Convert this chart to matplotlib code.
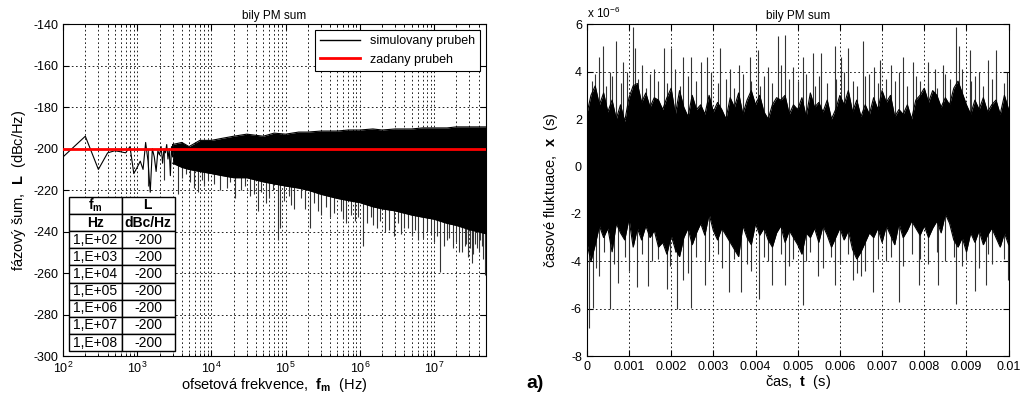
import numpy as np
import matplotlib
matplotlib.use('Agg')
import matplotlib.pyplot as plt
from matplotlib.lines import Line2D
from matplotlib.ticker import FixedLocator, FuncFormatter, LogLocator, NullFormatter

plt.rcParams['font.family'] = ['Liberation Sans', 'DejaVu Sans']
plt.rcParams['mathtext.fontset'] = 'custom'
plt.rcParams['mathtext.rm'] = 'Liberation Sans'
plt.rcParams['mathtext.bf'] = 'Liberation Sans:bold'
plt.rcParams['axes.unicode_minus'] = False

############################ data: spectrum (left) ############################
# low offset part, single FFT bins (Hz, dBc/Hz)
f_low = [100, 200, 300, 400, 500, 600, 700, 800, 900, 1000,
         1100, 1200, 1300, 1400, 1500, 1600, 1700, 1800, 1900, 2000,
         2100, 2200, 2300, 2400, 2500, 2600, 2700, 2800, 2900, 3000]
L_low = [-204, -194, -210, -202, -201, -201.5, -202, -199, -212, -209,
         -206, -210, -197, -206, -221, -200, -204, -211, -201, -203,
         -199, -207, -200, -202, -198, -205, -200, -213, -199, -204]

# dense part, envelope of the black band
f_band = [3e3, 4e3, 5e3, 7e3, 1e4, 1.4e4, 2e4, 3e4, 5e4, 7e4, 1e5, 1.5e5, 2e5, 3e5,
          5e5, 7e5, 1e6, 1.5e6, 2e6, 3e6, 5e6, 7e6, 1e7, 1.5e7, 2e7, 3e7, 5e7]
L_band_hi = [-198, -197, -199, -196, -196, -195, -194, -193, -194, -192.5, -193, -192, -192, -191.5,
             -191.5, -191, -191, -190.5, -191, -190.5, -190.5, -190, -190, -190, -189.5, -189.5, -189.5]
L_band_lo = [-207, -209, -210, -211, -212, -213, -214, -214, -216, -217, -218, -219, -220, -222,
             -224, -225, -226, -228, -229, -230, -232, -233, -234, -236, -237, -239, -241]

# deep downward spikes (Hz, dBc/Hz)
f_spk = [1.4e3, 2.3e3, 3.5e3, 5.8e3, 6.6e3, 9e3, 1.3e4, 2.1e4, 3.3e4, 4.2e4, 5.5e4, 7.8e4,
         8.5e4, 1.3e5, 2.1e5, 3.0e5, 4.5e5, 6.5e5, 1.1e6, 1.5e6, 2.2e6, 2.9e6, 4e6, 6e6,
         8e6, 1.2e7, 1.6e7, 2.2e7, 2.7e7, 3.2e7, 3.8e7, 4.2e7, 4.8e7]
L_spk = [-218, -215, -222, -219, -221, -215, -220, -224, -223, -230, -226, -244,
         -238, -229, -238, -232, -231, -236, -247, -237, -240, -242, -238, -244,
         -240, -259.5, -243, -250, -246, -255, -248, -244, -261]
# shallower spikes below the band edge
f_spk2 = [4e3, 4.5e3, 5.2e3, 7.5e3, 8e3, 1.1e4, 1.6e4, 1.8e4, 2.5e4, 2.8e4, 3.8e4, 4.6e4,
          6e4, 6.8e4, 9.5e4, 1.1e5, 1.2e5, 1.6e5, 1.8e5, 2.4e5, 2.7e5, 3.5e5, 4e5, 5.5e5,
          6e5, 7.5e5, 8.5e5, 9.5e5, 1.25e6, 1.4e6, 1.7e6, 1.9e6, 2.5e6, 3.3e6, 3.6e6, 4.5e6,
          5e6, 5.5e6, 7e6, 9e6, 1e7, 1.1e7, 1.35e7, 1.5e7, 1.8e7, 2e7, 2.4e7, 2.6e7,
          2.9e7, 3.1e7, 3.4e7, 3.6e7, 4e7, 4.4e7, 4.6e7, 5e7]
L_spk2 = [-214, -212, -216, -215, -218, -217, -219, -216, -220, -218, -222, -221,
          -224, -220, -225, -223, -227, -224, -229, -226, -230, -228, -233, -230,
          -234, -232, -235, -233, -236, -233, -238, -235, -239, -236, -241, -238,
          -242, -239, -243, -241, -245, -242, -247, -244, -248, -245, -250, -247,
          -252, -248, -251, -246, -250, -247, -253, -249]

L_set = -200
tab_f = ['1,E+02', '1,E+03', '1,E+04', '1,E+05', '1,E+06', '1,E+07', '1,E+08']
tab_L = ['-200', '-200', '-200', '-200', '-200', '-200', '-200']

############################ data: time jitter (right) ########################
t_env = [i * 0.0001 for i in range(101)]
x_hi = [2.2, 3.0, 3.4, 2.6, 3.1, 2.3, 2.8, 2.0, 2.6, 1.9,
        2.9, 3.4, 3.5, 2.7, 3.1, 2.5, 2.9, 2.8, 2.4, 2.9,
        3.3, 2.2, 3.2, 2.5, 2.1, 3.0, 2.4, 2.6, 2.2, 3.0,
        2.3, 2.7, 2.4, 2.0, 2.9, 2.5, 3.1, 2.2, 2.8, 3.2,
        2.6, 3.0, 2.3, 2.0, 2.6, 2.9, 2.8, 3.0, 2.2, 2.6,
        2.4, 2.9, 2.1, 3.1, 2.5, 2.7, 2.3, 2.8, 2.0, 2.4,
        3.0, 2.6, 3.2, 2.3, 2.8, 2.1, 2.6, 2.2, 2.9, 2.4,
        3.2, 2.7, 3.0, 2.1, 2.4, 2.2, 2.6, 2.0, 2.8, 3.0,
        3.3, 2.7, 3.2, 3.0, 2.5, 2.9, 2.6, 3.3, 3.6, 3.1,
        2.6, 2.2, 2.8, 2.4, 2.9, 2.3, 2.6, 2.8, 2.2, 3.0, 2.4]
x_lo = [-3.2, -4.0, -3.3, -2.5, -3.0, -2.6, -3.6, -2.4, -2.8, -3.1,
        -2.2, -3.4, -2.6, -3.1, -2.5, -3.0, -2.7, -3.4, -3.2, -3.7,
        -2.9, -3.5, -3.8, -3.0, -2.6, -3.3, -2.8, -2.4, -2.9, -2.0,
        -2.7, -3.1, -2.6, -2.9, -3.2, -3.5, -3.8, -2.5, -3.0, -3.3,
        -2.4, -2.9, -2.6, -3.1, -3.4, -2.8, -2.5, -3.2, -2.7, -3.0,
        -3.3, -3.7, -2.8, -3.0, -2.6, -3.2, -2.5, -2.9, -3.4, -3.0,
        -2.6, -3.1, -2.7, -3.5, -3.9, -3.6, -3.2, -2.8, -3.0, -2.6,
        -3.2, -2.5, -2.9, -3.3, -2.4, -3.0, -2.7, -2.3, -2.6, -2.9,
        -2.5, -3.0, -2.6, -2.3, -2.8, -2.0, -2.4, -3.1, -3.4, -3.0,
        -3.6, -2.8, -3.2, -2.7, -3.3, -2.9, -2.6, -3.0, -3.4, -2.8, -3.3]

# tall spikes (s, x10^-6 s)
t_up = [0.00028, 0.00039, 0.00055, 0.0007, 0.00085, 0.0011, 0.00115, 0.0013, 0.0016, 0.00183,
        0.002, 0.00228, 0.00248, 0.0027, 0.00286, 0.00315, 0.0034, 0.0036, 0.00386, 0.00406,
        0.0043, 0.00453, 0.00471, 0.0049, 0.00513, 0.00536, 0.00556, 0.00588, 0.00603, 0.00619,
        0.00655, 0.0068, 0.00694, 0.0072, 0.0075, 0.00773, 0.00809, 0.00825, 0.00844, 0.00876,
        0.00882, 0.00908, 0.0093, 0.0095, 0.00971, 0.00996]
x_up = [4.6, 5.1, 4.0, 5.3, 4.4, 5.9, 5.0, 4.3, 4.1, 5.0,
        5.0, 4.6, 4.6, 4.4, 4.6, 5.0, 4.1, 4.3, 4.6, 4.9,
        4.2, 5.5, 5.55, 4.2, 4.6, 4.8, 4.8, 5.1, 4.6, 5.0,
        5.3, 4.2, 4.5, 4.3, 4.6, 4.4, 4.4, 4.1, 4.3, 5.9,
        5.1, 4.9, 4.0, 4.5, 4.9, 4.0]
t_dn = [0.00005, 0.00015, 0.0003, 0.00055, 0.00075, 0.00118, 0.00144, 0.0019, 0.00215, 0.00227,
        0.00248, 0.0028, 0.00338, 0.00366, 0.00408, 0.0044, 0.00469, 0.00513, 0.00549, 0.00588,
        0.0063, 0.00678, 0.0074, 0.00788, 0.00832, 0.00876, 0.0092, 0.00947, 0.00998]
x_dn = [-6.8, -5.95, -4.6, -6.0, -4.9, -5.1, -5.05, -5.15, -6.0, -4.8,
        -5.95, -5.0, -5.3, -5.3, -5.6, -5.0, -5.0, -5.85, -4.6, -5.0,
        -4.8, -5.3, -5.7, -5.0, -5.0, -5.8, -5.25, -5.0, -4.8]
# medium spikes
t_up2 = [0.00012, 0.0002, 0.00045, 0.0006, 0.0008, 0.00095, 0.00122, 0.0014, 0.0015, 0.0017,
         0.0019, 0.00208, 0.0022, 0.0024, 0.0026, 0.00295, 0.0031, 0.0033, 0.0035, 0.0037,
         0.0039, 0.0041, 0.0042, 0.0044, 0.0046, 0.0048, 0.005, 0.0052, 0.0054, 0.0055,
         0.0057, 0.0059, 0.0061, 0.0063, 0.0064, 0.0066, 0.0067, 0.0069, 0.0071, 0.0073,
         0.0074, 0.0076, 0.0078, 0.0079, 0.0081, 0.0083, 0.0085, 0.0086, 0.0088, 0.0089,
         0.0091, 0.0092, 0.0094, 0.0096, 0.0097, 0.0099]
x_up2 = [3.6, 3.9, 3.4, 3.8, 3.5, 4.0, 3.7, 3.3, 3.9, 3.6,
         3.5, 4.1, 3.4, 3.8, 3.6, 4.0, 3.5, 3.7, 3.3, 3.9,
         3.6, 3.4, 3.8, 3.5, 4.3, 3.7, 3.6, 3.9, 3.4, 3.8,
         3.5, 3.7, 4.0, 3.6, 3.4, 3.8, 3.9, 3.5, 3.7, 3.6,
         4.0, 3.4, 3.8, 3.6, 3.5, 3.3, 3.9, 3.7, 3.5, 4.1,
         3.6, 3.8, 3.4, 3.7, 3.9, 3.5]
t_dn2 = [0.0001, 0.00022, 0.0004, 0.00065, 0.0009, 0.001, 0.0013, 0.00155, 0.0017, 0.00198,
         0.0021, 0.0024, 0.0026, 0.0029, 0.0031, 0.0032, 0.0035, 0.0038, 0.0039, 0.0042,
         0.0043, 0.0046, 0.0048, 0.0049, 0.0052, 0.0053, 0.0056, 0.0058, 0.006, 0.0062,
         0.0064, 0.0065, 0.0066, 0.0069, 0.0071, 0.0072, 0.0075, 0.0077, 0.0079, 0.0081,
         0.0083, 0.0085, 0.0087, 0.0089, 0.009, 0.0093, 0.0095, 0.0096, 0.0099]
x_dn2 = [-3.9, -4.3, -3.6, -4.1, -3.8, -4.4, -3.7, -4.0, -3.9, -4.2,
         -3.6, -4.5, -3.8, -4.0, -3.7, -4.3, -3.9, -4.1, -4.4, -3.8,
         -4.0, -3.7, -4.2, -3.9, -4.0, -3.6, -4.3, -3.8, -4.1, -3.7,
         -4.5, -4.6, -4.4, -3.9, -4.0, -3.8, -4.2, -3.7, -3.9, -4.1,
         -3.6, -4.0, -3.8, -4.2, -3.9, -4.3, -3.7, -4.1, -3.9]

###############################################################################
fig = plt.figure(figsize=(10.24, 3.97), dpi=100)
ax1 = fig.add_axes([0.0615, 0.103, 0.413, 0.836])
ax2 = fig.add_axes([0.573, 0.103, 0.412, 0.836])

gridkw = dict(color='black', linestyle=(0, (2, 3)), linewidth=0.6)
spkw = dict(color='0.2', lw=0.8, zorder=1.8)

# ---- left ----
ax1.set_xscale('log')
ax1.fill_between(f_band, L_band_lo, L_band_hi, color='black', lw=0, zorder=2)
ax1.plot(f_band, L_band_hi, color='black', lw=0.8, zorder=2)
ax1.plot(f_band, L_band_lo, color='black', lw=0.8, zorder=2)
ax1.plot(f_low + [f_band[0]], L_low + [L_band_hi[0]], color='black', lw=0.8, zorder=2)
ax1.vlines(f_spk, L_set, L_spk, **spkw)
ax1.vlines(f_spk2, L_set, L_spk2, **spkw)
ax1.axhline(L_set, color='red', lw=2, zorder=3)
ax1.set_xlim(100, 5e7)
ax1.set_ylim(-300, -140)
ax1.set_yticks(np.arange(-300, -139, 20))
ax1.xaxis.set_major_locator(LogLocator(base=10, numticks=20))
ax1.xaxis.set_minor_locator(LogLocator(base=10, subs=np.arange(2, 10), numticks=100))
ax1.xaxis.set_minor_formatter(NullFormatter())
ax1.grid(True, which='major', **gridkw)
ax1.grid(True, which='minor', axis='x', **gridkw)
ax1.set_title('bily PM sum', fontsize=8.5, pad=4)
ax1.set_xlabel('ofsetová frekvence,  $\\mathbf{f_m}$  (Hz)', fontsize=10.5, labelpad=0)
ax1.set_ylabel('fázový šum,  $\\mathbf{L}$  (dBc/Hz)', fontsize=10.5, labelpad=4)
handles = [Line2D([], [], color='black', lw=1), Line2D([], [], color='red', lw=2)]
leg = ax1.legend(handles, ['simulovany prubeh', 'zadany prubeh'], loc='upper right',
                 fontsize=9, fancybox=False, edgecolor='black', framealpha=1,
                 borderaxespad=0.5, handlelength=3.2)
leg.get_frame().set_linewidth(0.8)
leg.set_zorder(5)

cells = [['$\\mathbf{f_m}$', '$\\mathbf{L}$'], ['Hz', 'dBc/Hz']] + [[a, b] for a, b in zip(tab_f, tab_L)]
tab = ax1.table(cellText=cells, bbox=[0.014, 0.015, 0.25, 0.465], cellLoc='center', zorder=6)
tab.auto_set_font_size(False)
tab.set_fontsize(10)
for (r, c), cell in tab.get_celld().items():
    cell.set_edgecolor('black')
    cell.set_linewidth(1)
    cell.set_facecolor('white')
    if r < 2:
        cell.get_text().set_fontweight('bold')

# ---- right ----
ax2.fill_between(t_env, x_lo, x_hi, color='black', lw=0, zorder=2)
ax2.plot(t_env, x_hi, color='black', lw=0.8, zorder=2)
ax2.plot(t_env, x_lo, color='black', lw=0.8, zorder=2)
ax2.vlines(t_up, 0, x_up, **spkw)
ax2.vlines(t_dn, 0, x_dn, **spkw)
ax2.vlines(t_up2, 0, x_up2, **spkw)
ax2.vlines(t_dn2, 0, x_dn2, **spkw)
ax2.set_xlim(0, 0.01)
ax2.set_ylim(-8, 6)
ax2.xaxis.set_major_locator(FixedLocator([i * 0.001 for i in range(11)]))
ax2.xaxis.set_major_formatter(FuncFormatter(lambda v, p: '%g' % round(v, 4)))
ax2.set_yticks(np.arange(-8, 7, 2))
ax2.grid(True, **gridkw)
ax2.set_title('bily PM sum', fontsize=8.5, pad=4)
ax2.text(0.0, 1.01, 'x 10$^{-6}$', transform=ax2.transAxes, fontsize=8.5, va='bottom', ha='left')
ax2.set_xlabel('čas,  $\\mathbf{t}$  (s)', fontsize=10.5, labelpad=0)
ax2.set_ylabel('časové fluktuace,  $\\mathbf{x}$  (s)', fontsize=10.5, labelpad=8)

for ax in (ax1, ax2):
    ax.tick_params(which='both', direction='in', top=True, right=True, labelsize=9)
    ax.tick_params(which='major', length=4)
    ax.tick_params(which='minor', length=2)
    for s in ax.spines.values():
        s.set_linewidth(0.8)

fig.text(0.514, 0.035, 'a)', fontsize=14, fontweight='bold', ha='left', va='center')

fig.savefig('out.png', dpi=100)
